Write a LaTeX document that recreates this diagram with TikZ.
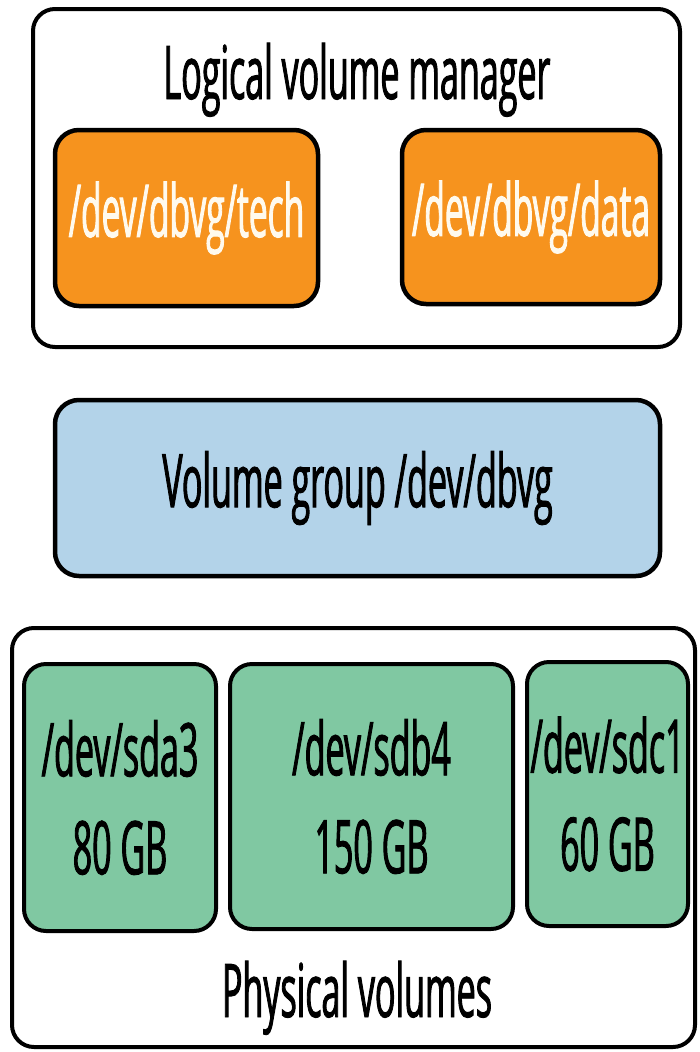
\documentclass[tikz,border=0pt]{standalone}
\usepackage{fontspec}
\setmainfont[FakeStretch=0.46, FakeBold=1.2]{Open Sans}
\usetikzlibrary{positioning}

\definecolor{lvorange}{RGB}{246,147,30}
\definecolor{vgblue}{RGB}{179,211,233}
\definecolor{pvgreen}{RGB}{128,200,162}
\definecolor{lvtext}{RGB}{255,250,238}

\begin{document}
\begin{tikzpicture}[x=1pt, y=-1pt,
	mgrbox/.style={draw, line width=4pt, rounded corners=22pt, inner sep=0pt},
	lvbox/.style={draw, fill=lvorange, line width=4.5pt, rounded corners=24pt, inner sep=0pt,
		text=lvtext, font=\fontsize{73}{86}\selectfont},
	vgbox/.style={draw, fill=vgblue, line width=4.5pt, rounded corners=24pt, inner sep=0pt,
		font=\fontsize{74}{88}\selectfont},
	pvbox/.style={draw, fill=pvgreen, line width=4pt, rounded corners=22pt, inner sep=0pt,
		align=center, font=\fontsize{74}{98}\selectfont},
	titletxt/.style={anchor=base, inner sep=0pt, font=\fontsize{74}{88}\selectfont}]

		\useasboundingbox (0,0) rectangle (700,1052);

		% logical volume manager

		\node[mgrbox, minimum width=647pt, minimum height=338pt] (lvm) at (356.5,178) {};

		\node[titletxt] (lvmtitle) at (357,99) {Logical volume manager};

		\node[lvbox, minimum width=263pt, minimum height=176pt] (tech) at (186.5,218) {/dev/dbvg/tech};

		\node[lvbox, minimum width=258pt, minimum height=174pt] (data) at (531,217) {/dev/dbvg/data};

		% volume group

		\node[vgbox, minimum width=605pt, minimum height=176pt] (dbvg) at (357.5,488) {Volume group /dev/dbvg};

		% physical volumes

		\node[mgrbox, minimum width=683pt, minimum height=419pt] (pv) at (353.5,837.5) {};

		\node[pvbox, minimum width=192pt, minimum height=267pt] (sda) at (120,797.5) {/dev/sda3\\80 GB};

		\node[pvbox, minimum width=283pt, minimum height=265pt] (sdb) at (371.5,796.5) {/dev/sdb4\\150 GB};

		\node[pvbox, minimum width=161pt, minimum height=264pt] (sdc) at (607.5,794) {/dev/sdc1\\60 GB};

		\node[titletxt] (pvtitle) at (357,1017) {Physical volumes};

	\end{tikzpicture}
\end{document}
